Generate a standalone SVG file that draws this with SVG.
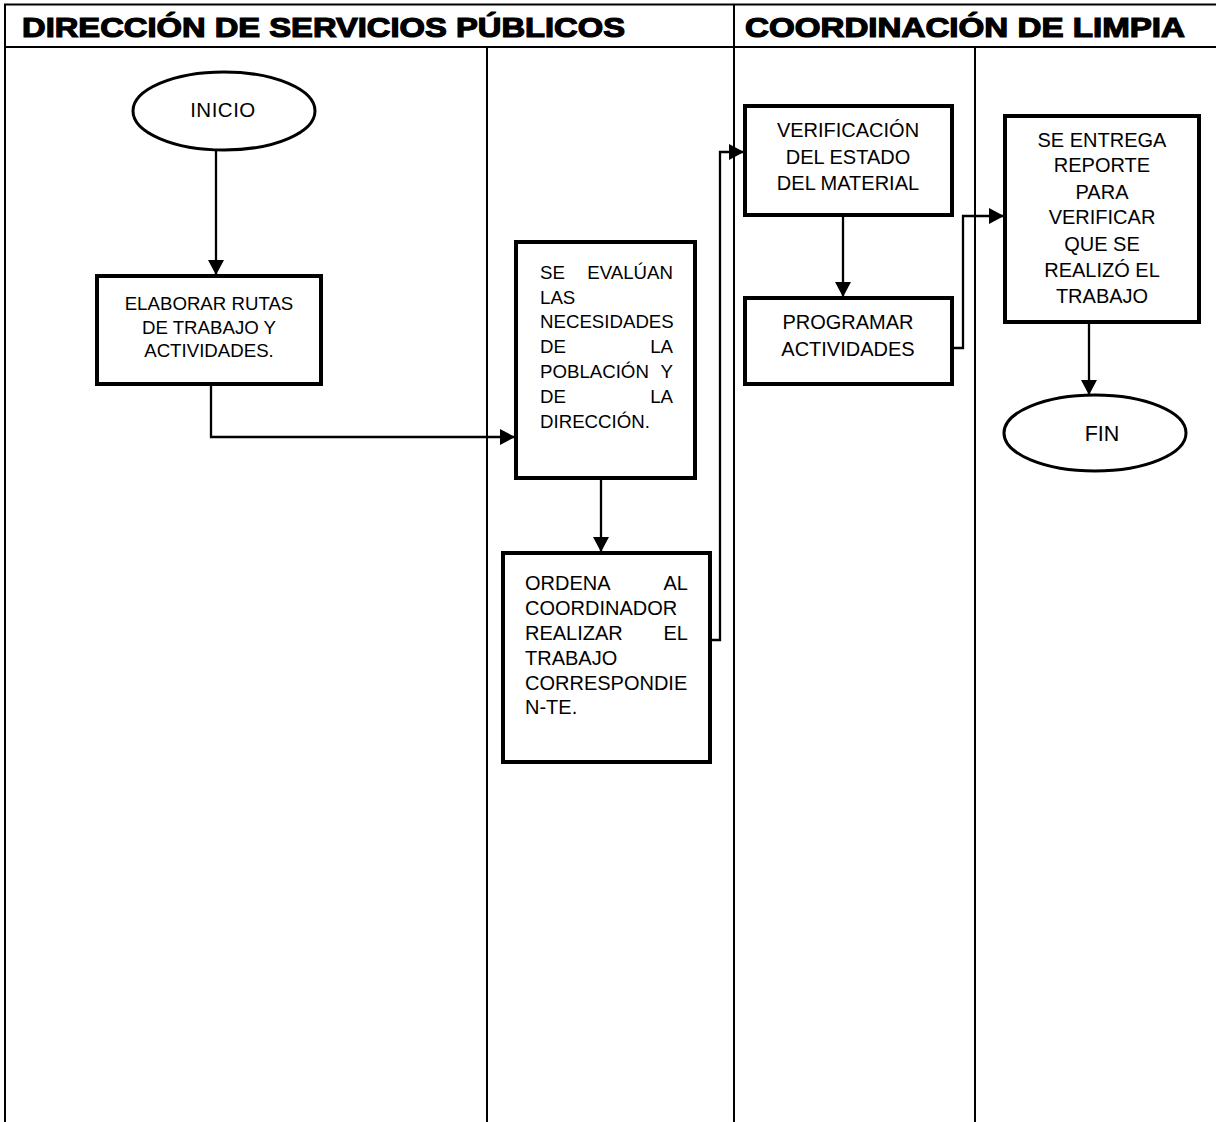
<svg xmlns="http://www.w3.org/2000/svg" width="1216" height="1122" viewBox="0 0 1216 1122">
<defs>
<marker id="arr" markerUnits="userSpaceOnUse" markerWidth="16" markerHeight="16" refX="15" refY="8" orient="auto">
<path d="M0,0 L15,8 L0,16 Z" fill="#000"/>
</marker>
<style>
.grid{stroke:#000;stroke-width:2;fill:none}
.hdr{font-family:"Liberation Sans",Arial,sans-serif;font-weight:bold;font-size:27.5px;fill:#000;stroke:#000;stroke-width:1.2}
.box{fill:#fff;stroke:#000;stroke-width:4}
.term{fill:#fff;stroke:#000;stroke-width:3}
.t{font-family:"Liberation Sans",Arial,sans-serif;font-size:18.67px;fill:#000}
.m{font-size:20px}
.c{text-anchor:middle}
.r{text-anchor:end}
.conn{fill:none;stroke:#000;stroke-width:2.3;marker-end:url(#arr)}
</style>
</defs>
<rect width="1216" height="1122" fill="#fff"/>
<g id="table">
<line class="grid" x1="4" y1="4.5" x2="1216" y2="4.5"/>
<line class="grid" x1="4" y1="47" x2="1216" y2="47"/>
<line class="grid" x1="5" y1="4" x2="5" y2="1122"/>
<line class="grid" x1="734" y1="4" x2="734" y2="1122"/>
<line class="grid" x1="487" y1="47" x2="487" y2="1122"/>
<line class="grid" x1="975" y1="47" x2="975" y2="1122"/>
<text class="hdr" x="22" y="37" textLength="603" lengthAdjust="spacingAndGlyphs">DIRECCIÓN DE SERVICIOS PÚBLICOS</text>
<text class="hdr" x="745" y="37" textLength="440" lengthAdjust="spacingAndGlyphs">COORDINACIÓN DE LIMPIA</text>
</g>
<g id="connectors">
<path class="conn" d="M216,150 V275"/>
<path class="conn" d="M211,386 V437 H515"/>
<path class="conn" d="M601,480 V552"/>
<path class="conn" d="M712,640 H720 V152 H744"/>
<path class="conn" d="M843,217 V297"/>
<path class="conn" d="M954,348 H963 V216 H1004"/>
<path class="conn" d="M1089,324 V395"/>
</g>
<g id="inicio">
<ellipse class="term" cx="224" cy="111" rx="91" ry="39"/>
<text class="t c" x="223" y="117" style="font-size:20.5px" letter-spacing="0.5">INICIO</text>
</g>
<g id="elaborar">
<rect class="box" x="97" y="276" width="224" height="108"/>
<text class="t c" x="209" y="310">ELABORAR RUTAS</text>
<text class="t c" x="209" y="334">DE TRABAJO Y</text>
<text class="t c" x="209" y="357">ACTIVIDADES.</text>
</g>
<g id="evaluan">
<rect class="box" x="516" y="242" width="179" height="236"/>
<text class="t" x="540" y="279">SE</text><text class="t r" x="673" y="279">EVALÚAN</text>
<text class="t" x="540" y="304">LAS</text>
<text class="t" x="540" y="328">NECESIDADES</text>
<text class="t" x="540" y="353">DE</text><text class="t r" x="673" y="353">LA</text>
<text class="t" x="540" y="378">POBLACIÓN</text><text class="t r" x="673" y="378">Y</text>
<text class="t" x="540" y="403">DE</text><text class="t r" x="673" y="403">LA</text>
<text class="t" x="540" y="428">DIRECCIÓN.</text>
</g>
<g id="ordena">
<rect class="box" x="503" y="553" width="207" height="209"/>
<text class="t m" x="525" y="590">ORDENA</text><text class="t m r" x="688" y="590">AL</text>
<text class="t m" x="525" y="615">COORDINADOR</text>
<text class="t m" x="525" y="640">REALIZAR</text><text class="t m r" x="688" y="640">EL</text>
<text class="t m" x="525" y="665">TRABAJO</text>
<text class="t m" x="525" y="690">CORRESPONDIE</text>
<text class="t m" x="525" y="714">N-TE.</text>
</g>
<g id="verificacion">
<rect class="box" x="745" y="106" width="207" height="109"/>
<text class="t m c" x="848" y="137">VERIFICACIÓN</text>
<text class="t m c" x="848" y="164">DEL ESTADO</text>
<text class="t m c" x="848" y="190">DEL MATERIAL</text>
</g>
<g id="programar">
<rect class="box" x="745" y="298" width="207" height="86"/>
<text class="t m c" x="848" y="329">PROGRAMAR</text>
<text class="t m c" x="848" y="356">ACTIVIDADES</text>
</g>
<g id="entrega">
<rect class="box" x="1005" y="116" width="194" height="206"/>
<text class="t m c" x="1102" y="147">SE ENTREGA</text>
<text class="t m c" x="1102" y="172">REPORTE</text>
<text class="t m c" x="1102" y="199">PARA</text>
<text class="t m c" x="1102" y="224">VERIFICAR</text>
<text class="t m c" x="1102" y="251">QUE SE</text>
<text class="t m c" x="1102" y="277">REALIZÓ EL</text>
<text class="t m c" x="1102" y="303">TRABAJO</text>
</g>
<g id="fin">
<ellipse class="term" cx="1095" cy="433" rx="91" ry="38"/>
<text class="t c" x="1102" y="441" style="font-size:21.5px">FIN</text>
</g>
</svg>
